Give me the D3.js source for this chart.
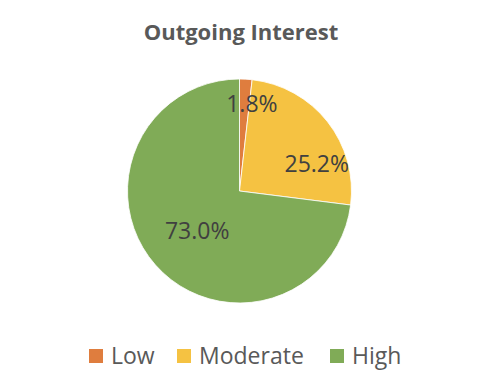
<!DOCTYPE html>
<html>
<head>
<meta charset="utf-8">
<script src="https://cdn.jsdelivr.net/npm/d3@7"></script>
<style>
  body { margin: 0; background: #fff; }
  text { font-family: "Open Sans", sans-serif; }
</style>
</head>
<body>
<svg id="chart" width="486" height="386"></svg>
<script>
  const categories = ["Low", "Moderate", "High"];
  const values = [1.8, 25.2, 73.0];
  const labels = ["1.8%", "25.2%", "73.0%"];
  const colors = ["#DF7D3E", "#F5C242", "#80AB57"];

  const svg = d3.select("#chart");
  const width = +svg.attr("width");
  const cx = 239.5, cy = 191, radius = 112;

  // title
  svg.append("text")
    .attr("x", width / 2 - 2)
    .attr("y", 40)
    .attr("text-anchor", "middle")
    .style("font-size", "22px")
    .style("font-weight", "bold")
    .style("fill", "#595959")
    .text("Outgoing Interest");

  const data = categories.map((c, i) => ({ cat: c, value: values[i], label: labels[i] }));

  const pie = d3.pie().value(d => d.value).sort(null);
  const arc = d3.arc().innerRadius(0).outerRadius(radius);
  const colorScale = d3.scaleOrdinal().domain(categories).range(colors);

  const g = svg.append("g").attr("transform", `translate(${cx},${cy})`);
  const arcs = pie(data);

  g.selectAll("path")
    .data(arcs)
    .join("path")
    .attr("d", arc)
    .attr("fill", d => colorScale(d.data.cat))
    .attr("stroke", "#fff")
    .attr("stroke-width", 0.8);

  // label placement like excel's best fit (radius fraction, angle shift in degrees)
  const labelLayout = [
    { r: 0.79, shift: 4.8 },
    { r: 0.73, shift: 19 },
    { r: 0.52, shift: -2 }
  ];

  g.selectAll("text.pct")
    .data(arcs)
    .join("text")
    .attr("class", "pct")
    .attr("transform", (d, i) => {
      const a = (d.startAngle + d.endAngle) / 2 + labelLayout[i].shift * Math.PI / 180;
      const r = radius * labelLayout[i].r;
      return `translate(${r * Math.sin(a)},${-r * Math.cos(a)})`;
    })
    .attr("text-anchor", "middle")
    .attr("dy", "0.36em")
    .style("font-size", "23px")
    .style("fill", "#404040")
    .text(d => d.data.label);

  // legend
  const legend = svg.append("g");
  const legendX = d3.scaleOrdinal().domain(categories).range([89, 177, 330]);
  const items = legend.selectAll("g")
    .data(categories)
    .join("g")
    .attr("transform", d => `translate(${legendX(d)},349)`);

  items.append("rect")
    .attr("width", 14)
    .attr("height", 14)
    .attr("fill", d => colorScale(d));

  items.append("text")
    .attr("x", 22)
    .attr("y", 15)
    .style("font-size", "23px")
    .style("fill", "#595959")
    .text(d => d);
</script>
</body>
</html>
